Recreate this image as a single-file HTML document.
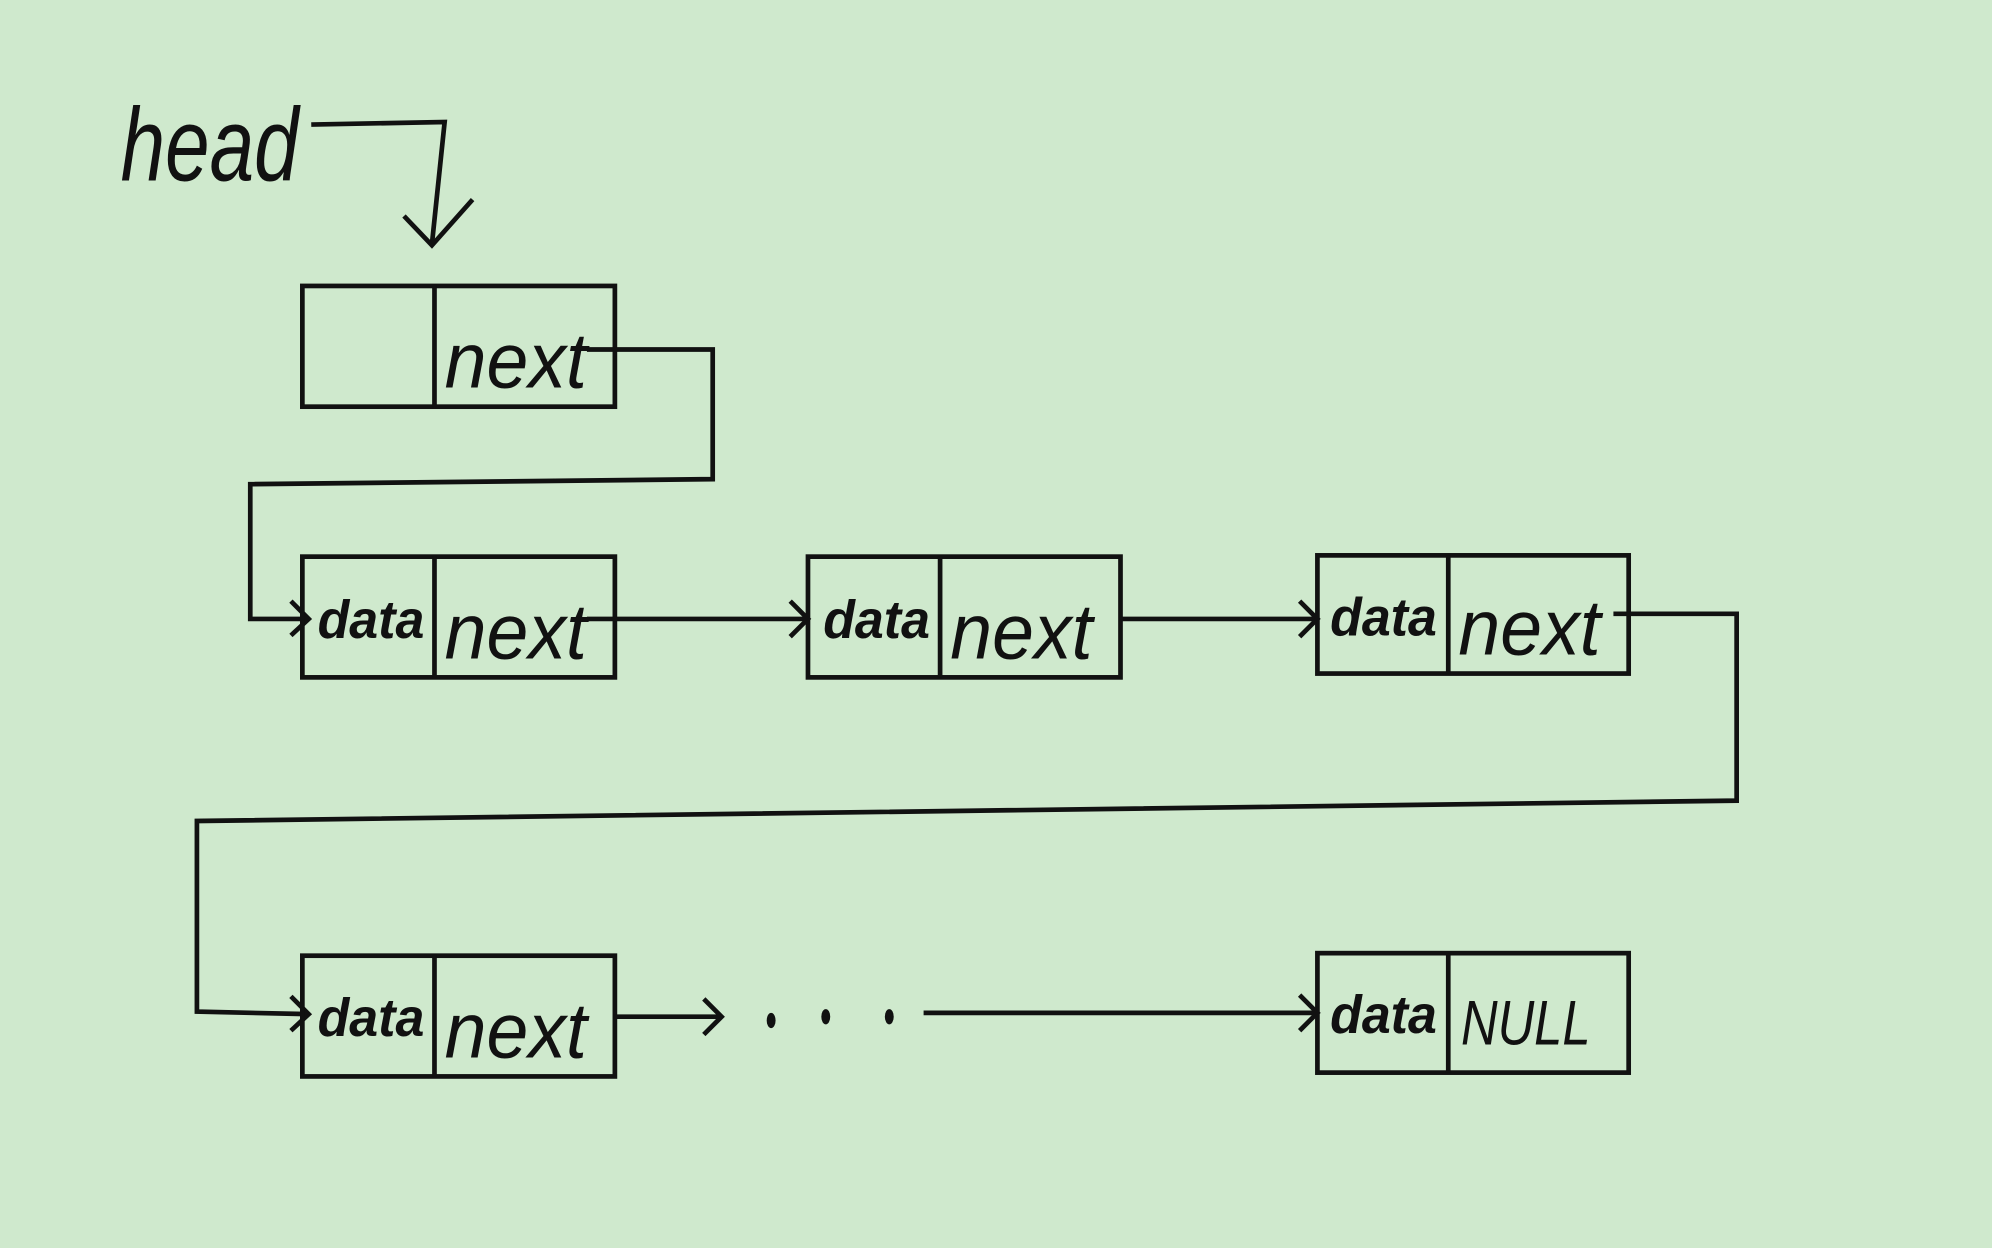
<!DOCTYPE html>
<html><head><meta charset="utf-8">
<style>
html,body{margin:0;padding:0;background:#cfe9cd;}
svg{display:block}
text{font-family:"Liberation Sans",sans-serif;fill:#111}
</style></head>
<body>
<svg width="1992" height="1248" viewBox="0 0 1568 982" preserveAspectRatio="none">
<rect width="1568" height="982" fill="#cfe9cd"/>
<g stroke="#111" stroke-width="3.7" fill="none" stroke-linejoin="miter">
<path d="M245 98 L350 96 L340 192"/>
<path d="M318 170 L340 193 L372 157"/>
<rect x="238" y="225" width="246" height="95"/><line x1="342" y1="225" x2="342" y2="320"/>
<path d="M462 275 L561 275 L561 377 L197 381 L197 487 L243 487"/>
<path d="M229 473 L243 487 L229 500"/>
<rect x="238" y="438" width="246" height="95"/><line x1="342" y1="438" x2="342" y2="533"/>
<rect x="636" y="438" width="246" height="95"/><line x1="740" y1="438" x2="740" y2="533"/>
<rect x="1037" y="437" width="245" height="93"/><line x1="1140" y1="437" x2="1140" y2="530"/>
<path d="M462 487 L636 487"/><path d="M622 473 L636 487 L622 501"/>
<path d="M882 487 L1037 487"/><path d="M1023 473 L1037 487 L1023 501"/>
<path d="M1270 483 L1367 483 L1367 630 L155 646 L155 796 L243 798"/>
<path d="M229 784 L243 798 L229 811"/>
<rect x="238" y="752" width="246" height="95"/><line x1="342" y1="752" x2="342" y2="847"/>
<rect x="1037" y="750" width="245" height="94"/><line x1="1140" y1="750" x2="1140" y2="844"/>
<path d="M484 800 L568 800"/><path d="M554 786 L568 800 L554 814"/>
<path d="M727 797 L1037 797"/><path d="M1023 783 L1037 797 L1023 811"/>
</g>
<g fill="#111">
<ellipse cx="607" cy="803" rx="3.5" ry="6"/>
<ellipse cx="650" cy="800" rx="3.5" ry="6"/>
<ellipse cx="700" cy="800" rx="3.5" ry="6"/>
</g>
<text x="95" y="142" font-size="82" font-style="italic" textLength="140" lengthAdjust="spacingAndGlyphs">head</text>
<g font-size="62" font-style="italic">
<text x="350" y="305" textLength="112" lengthAdjust="spacingAndGlyphs">next</text>
<text x="350" y="518" textLength="112" lengthAdjust="spacingAndGlyphs">next</text>
<text x="748" y="518" textLength="112" lengthAdjust="spacingAndGlyphs">next</text>
<text x="1148" y="515" textLength="112" lengthAdjust="spacingAndGlyphs">next</text>
<text x="350" y="832" textLength="112" lengthAdjust="spacingAndGlyphs">next</text>
</g>
<text x="1150" y="822" font-size="50" font-style="italic" textLength="102" lengthAdjust="spacingAndGlyphs">NULL</text>
<g font-size="42" font-weight="bold" font-style="italic">
<text x="250" y="502" textLength="84" lengthAdjust="spacingAndGlyphs">data</text>
<text x="648" y="502" textLength="84" lengthAdjust="spacingAndGlyphs">data</text>
<text x="1047" y="500" textLength="84" lengthAdjust="spacingAndGlyphs">data</text>
<text x="250" y="815" textLength="84" lengthAdjust="spacingAndGlyphs">data</text>
<text x="1047" y="813" textLength="84" lengthAdjust="spacingAndGlyphs">data</text>
</g>
</svg>
</body></html>
